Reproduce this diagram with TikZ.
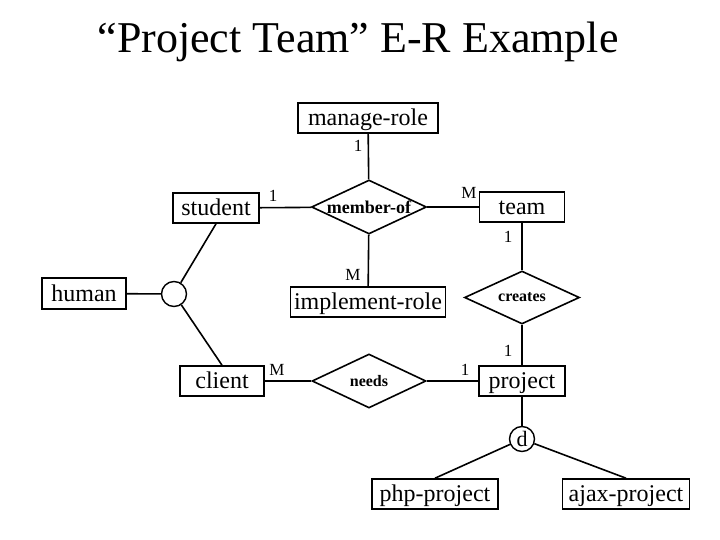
\documentclass[tikz,border=0pt]{standalone}
\usepackage{fontspec}
\setmainfont{Liberation Serif}
\usetikzlibrary{shapes.geometric}

\begin{document}
\begin{tikzpicture}[x=1pt,y=-1pt]
					\tikzstyle{entity}=[rectangle,draw=black,line width=1.6pt,inner sep=0pt,minimum height=30pt,text height=18pt,text depth=3pt,font=\fontsize{24}{28}\selectfont]
					\tikzstyle{relation}=[diamond,draw=black,line width=1.6pt,inner sep=0pt,shape aspect=2.13,minimum width=115pt,minimum height=54pt,font=\bfseries\fontsize{16}{19}\selectfont]
					\tikzstyle{isa}=[circle,draw=black,line width=1.4pt,inner sep=0pt,minimum size=25pt,font=\fontsize{22}{24}\selectfont]
					\tikzstyle{card}=[inner sep=0pt,font=\fontsize{17}{20}\selectfont]
					\tikzstyle{link}=[line width=1.6pt]
					\useasboundingbox (0,0) rectangle (720,540);
					\node[anchor=base] (title) at (358,53) {\fontsize{44}{50}\selectfont “Project Team” E-R Example};
					% entities
					\node[entity,minimum width=140pt] (manage) at (368,118) {manage-role};
					\node[entity,minimum width=86pt] (student) at (216,208) {student};
					\node[entity,minimum width=85pt] (team) at (522,207) {team};
					\node[entity,minimum width=84pt,minimum height=31pt] (human) at (84,293.5) {human};
					\node[entity,minimum width=155pt] (implement) at (368,302) {implement-role};
					\node[entity,minimum width=84pt] (client) at (222,381) {client};
					\node[entity,minimum width=86pt] (project) at (522,381) {project};
					\node[entity,minimum width=126pt] (php) at (435,494) {php-project};
					\node[entity,minimum width=127pt] (ajax) at (626,494) {ajax-project};
					% relationships
					\node[relation,font=\bfseries\fontsize{18}{20}\selectfont] (memberof) at (369,207) {member-of};
					\node[relation,minimum height=53pt] (creates) at (522,297.5) {creates};
					\node[relation,minimum width=114pt] (needs) at (369,381) {needs};
					% isa circles
					\node[isa] (isa) at (174,294) {};
					\node[isa] (disjoint) at (522,439) {d};
					% cardinalities
					\node[card] (c1) at (358,146) {1};
					\node[card] (c2) at (273,196) {1};
					\node[card] (c3) at (469,193) {M};
					\node[card] (c4) at (508,237) {1};
					\node[card] (c5) at (353,275) {M};
					\node[card] (c6) at (508,351) {1};
					\node[card] (c7) at (277,370) {M};
					\node[card] (c8) at (465,370) {1};
					% links
					\draw[link] (manage) -- (memberof);
					\draw[link] (student) -- (memberof);
					\draw[link] (memberof) -- (team);
					\draw[link] (memberof) -- (implement);
					\draw[link] (team) -- (creates);
					\draw[link] (creates) -- (project);
					\draw[link] (client) -- (needs);
					\draw[link] (needs) -- (project);
					\draw[link] (human) -- (isa);
					\draw[link] (student.south) -- (isa);
					\draw[link] (isa) -- (client.north);
					\draw[link] (project) -- (disjoint);
					\draw[link] (disjoint) -- (php.north);
					\draw[link] (disjoint) -- (ajax.north);
					\end{tikzpicture}
\end{document}
